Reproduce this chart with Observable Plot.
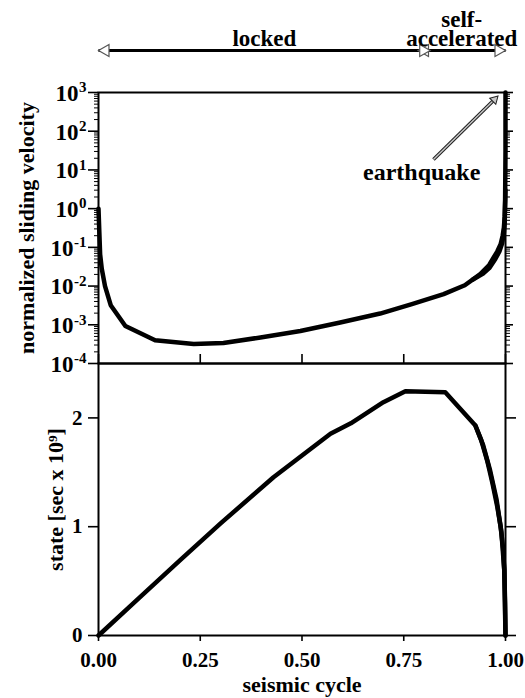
<!DOCTYPE html>
<html>
<head>
<meta charset="utf-8">
<script src="https://cdn.jsdelivr.net/npm/d3@7"></script>
<script src="https://cdn.jsdelivr.net/npm/@observablehq/plot@0.6"></script>
<style>
  body { margin: 0; background: #fff; }
  #chart { position: relative; width: 525px; height: 698px; }
  #chart svg { position: absolute; left: 0; }
</style>
</head>
<body>
<div id="chart"></div>
<script>
// Normalized sliding velocity through one seismic cycle (fraction of cycle)
const velocityCycle = [0, 0.002, 0.004, 0.008, 0.016, 0.03, 0.066, 0.139, 0.234, 0.307, 0.398, 0.496,
  0.594, 0.692, 0.77, 0.848, 0.9, 0.938, 0.96, 0.971, 0.98, 0.988, 0.993, 0.996, 0.998, 0.999, 1.0, 1.0];
const velocity = [1, 0.25, 0.066, 0.028, 0.01, 0.0032, 0.00093, 0.0004, 0.00032, 0.00034, 0.00047, 0.00069,
  0.00115, 0.00195, 0.0034, 0.0062, 0.0105, 0.0204, 0.035, 0.055, 0.079, 0.12, 0.2, 0.32, 0.63, 1.6, 30, 1000];
// late-cycle branch traced just beside the main one
const velocityTailCycle = [0.92, 0.945, 0.96, 0.975, 0.985, 0.992, 0.996, 0.998, 1.0];
const velocityTail = [0.0148, 0.021, 0.029, 0.05, 0.078, 0.13, 0.24, 0.45, 3];

// State variable [sec x 10^9] through the same cycle
const stateCycle = [0, 0.1, 0.2, 0.3, 0.43, 0.5, 0.57, 0.62, 0.7, 0.754, 0.852, 0.926, 0.94, 0.955,
  0.968, 0.98, 0.988, 0.994, 0.997, 0.999, 1.0];
const state = [0, 0.345, 0.69, 1.03, 1.455, 1.655, 1.854, 1.95, 2.144, 2.246, 2.236, 1.93, 1.8, 1.608,
  1.4, 1.18, 1.0, 0.8, 0.6, 0.3, 0];
const stateTailCycle = [0.926, 0.945, 0.962, 0.978, 0.99, 0.997, 1.0];
const stateTail = [1.93, 1.75, 1.52, 1.25, 0.95, 0.6, 0];

// Phases of the cycle
const phaseNames = ["locked", "self-\naccelerated"];
const phaseStart = [0, 0.785];
const phaseEnd = [0.815, 1.0];

// Axis ticks
const velocityExponents = [-4, -3, -2, -1, 0, 1, 2, 3];
const stateTicks = [0, 1, 2];
const cycleTicks = [0, 0.25, 0.5, 0.75, 1];

// Annotation
const quakeLabel = "earthquake";
const quakeArrow = {x1: 0.823, y1: 18.6, x2: 0.973, y2: 660};
const labelAt = {x: 0.794, y: 8.9};

const velocityRows = velocityCycle.map((c, i) => ({cycle: c, v: velocity[i]}));
const velocityTailRows = velocityTailCycle.map((c, i) => ({cycle: c, v: velocityTail[i]}));
const stateRows = stateCycle.map((c, i) => ({cycle: c, s: state[i]}));
const stateTailRows = stateTailCycle.map((c, i) => ({cycle: c, s: stateTail[i]}));
const phases = phaseNames.map((name, i) => ({name, start: phaseStart[i], end: phaseEnd[i], mid: (phaseStart[i] + phaseEnd[i]) / 2}));

const decades = velocityExponents.map(e => 10 ** e);
const minorTicks = decades.slice(0, -1).flatMap(d => d3.range(2, 10).map(k => k * d));
const phaseLevel = 10 ** 4.085;

const font = "'Liberation Serif', 'Times New Roman', Times, serif";
const W = 525, M = {left: 98, right: 20};
const blank = () => "";
const curve = {stroke: "black", strokeWidth: 4.5, strokeLinejoin: "round"};

const velocityPanel = Plot.plot({
  width: W, height: 363,
  marginLeft: M.left, marginRight: M.right, marginTop: 92, marginBottom: 0,
  style: {fontFamily: font, fontWeight: "bold", fontSize: "22px", overflow: "visible", background: "transparent"},
  x: {domain: [0, 1], axis: null},
  y: {type: "log", domain: [1e-4, 1e3]},
  marks: [
    Plot.axisY({anchor: "left", ticks: minorTicks, tickSize: 4, tickFormat: blank, label: null, strokeWidth: 1}),
    Plot.axisY({anchor: "left", ticks: decades, tickSize: 10, tickFormat: blank, label: null, strokeWidth: 1.6}),
    Plot.axisY({anchor: "right", ticks: minorTicks, tickSize: 4, tickFormat: blank, label: null, strokeWidth: 1}),
    Plot.axisY({anchor: "right", ticks: decades, tickSize: 7, tickFormat: blank, label: null, strokeWidth: 1.6}),
    // decade labels: "10" with a raised exponent
    Plot.text(velocityExponents.filter(e => e >= 0), {y: e => 10 ** e, frameAnchor: "left", text: () => "10", textAnchor: "end", dx: -20, dy: 1, fontSize: 23}),
    Plot.text(velocityExponents.filter(e => e < 0), {y: e => 10 ** e, frameAnchor: "left", text: () => "10", textAnchor: "end", dx: -25, dy: 1, fontSize: 23}),
    Plot.text(velocityExponents, {y: e => 10 ** e, frameAnchor: "left", text: e => String(e), textAnchor: "end", dx: -12, dy: -5, fontSize: 15}),
    Plot.text(["normalized sliding velocity"], {frameAnchor: "left", textAnchor: "middle", rotate: -90, dx: -72, fontSize: 22}),
    Plot.frame({stroke: "black", strokeWidth: 2}),
    Plot.line(velocityRows, {x: "cycle", y: "v", ...curve}),
    Plot.line(velocityTailRows, {x: "cycle", y: "v", ...curve}),
    // earthquake pointer: hollow shaft and head
    Plot.link([quakeArrow], {x1: "x1", y1: "y1", x2: "x2", y2: "y2", stroke: "#222", strokeWidth: 3.5}),
    Plot.link([quakeArrow], {x1: "x1", y1: "y1", x2: "x2", y2: "y2", stroke: "#c8c8c8", strokeWidth: 1.4}),
    Plot.dot([quakeArrow], {x: "x2", y: "y2", symbol: "triangle", r: 3.2, rotate: 45, fill: "#c8c8c8", stroke: "#222", strokeWidth: 1}),
    Plot.text([quakeLabel], {x: labelAt.x, y: labelAt.y, fontSize: 24}),
    // cycle phases above the panel
    Plot.link(phases, {x1: "start", x2: "end", y1: () => phaseLevel, y2: () => phaseLevel, stroke: "black", strokeWidth: 3}),
    Plot.dot(phases, {x: "start", y: () => phaseLevel, symbol: "triangle", rotate: -90, r: 4.5, dx: 7, fill: "white", stroke: "#555", strokeWidth: 1.2}),
    Plot.dot(phases, {x: "end", y: () => phaseLevel, symbol: "triangle", rotate: 90, r: 4.5, dx: -7, fill: "white", stroke: "#555", strokeWidth: 1.2}),
    Plot.text(phases, {x: "mid", frameAnchor: "top", text: "name", lineAnchor: "bottom", dy: -47, lineHeight: 0.82, fontSize: 23})
  ]
});
velocityPanel.style.top = "0px";

const statePanel = Plot.plot({
  width: W, height: 335,
  marginLeft: M.left, marginRight: M.right, marginTop: 0, marginBottom: 63,
  style: {fontFamily: font, fontWeight: "bold", fontSize: "21px", overflow: "visible", background: "transparent"},
  x: {domain: [0, 1]},
  y: {domain: [0, 2.5]},
  marks: [
    Plot.axisX({anchor: "top", ticks: cycleTicks, tickSize: 10, tickFormat: blank, label: null, strokeWidth: 1.6}),
    Plot.axisX({anchor: "bottom", ticks: cycleTicks, tickSize: 6, tickPadding: 11, tickFormat: d3.format(".2f"), label: null, strokeWidth: 1.6, fontSize: 21}),
    Plot.axisY({anchor: "left", ticks: stateTicks, tickSize: 10, tickPadding: 6, tickFormat: d3.format("d"), label: null, strokeWidth: 1.6, fontSize: 21}),
    Plot.axisY({anchor: "right", ticks: stateTicks, tickSize: 10, tickFormat: blank, label: null, strokeWidth: 1.6}),
    Plot.text(["state [sec x 10\u2079]"], {frameAnchor: "left", textAnchor: "middle", rotate: -90, dx: -43, fontSize: 22}),
    Plot.text(["seismic cycle"], {frameAnchor: "bottom", dy: 56, fontSize: 22}),
    Plot.frame({stroke: "black", strokeWidth: 2}),
    Plot.line(stateRows, {x: "cycle", y: "s", ...curve}),
    Plot.line(stateTailRows, {x: "cycle", y: "s", ...curve})
  ]
});
statePanel.style.top = "363px";

document.getElementById("chart").append(velocityPanel, statePanel);
</script>
</body>
</html>
